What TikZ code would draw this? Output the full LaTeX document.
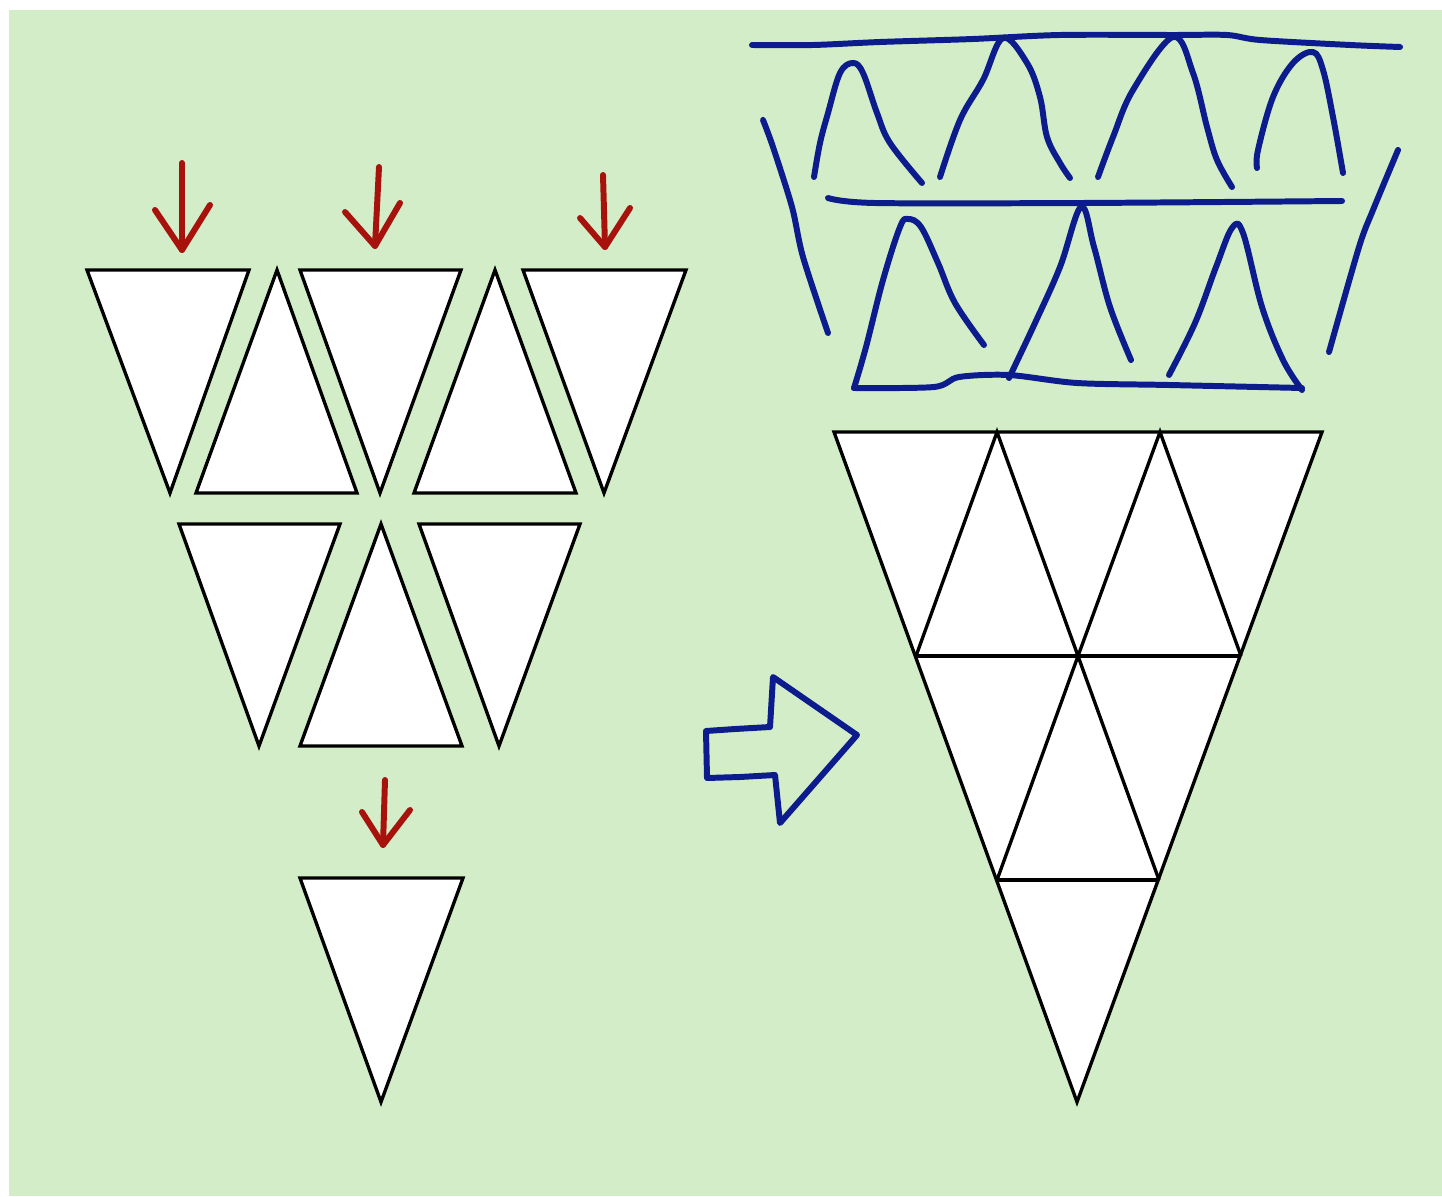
\documentclass[tikz,border=0pt]{standalone}
\usepackage{tikz}
\usetikzlibrary{calc}

\definecolor{bggreen}{RGB}{211,237,200}
\definecolor{inkblue}{RGB}{12,28,140}
\definecolor{inkred}{RGB}{168,18,12}

\tikzset{
	piece/.style={draw=black, fill=white, line width=1.9pt, line join=miter},
	seam/.style={draw=black, line width=1.9pt},
	bluepen/.style={draw=inkblue, line width=3.4pt, line cap=round, line join=round},
	redpen/.style={draw=inkred, line width=3.4pt, line cap=round, line join=round}
}

\begin{document}
\begin{tikzpicture}[x=0.02cm, y=-0.02cm]
			\useasboundingbox (0,0) rectangle (1442,1196);
			\fill[bggreen] (9,10) rectangle (1442,1196);
			% loose pieces
			\foreach \p/\q/\r in {{(87,270)}/{(249,270)}/{(170,493)},
			                      {(277,270)}/{(357,493)}/{(196,493)},
			                      {(300,270)}/{(461,270)}/{(380,493)},
			                      {(495,270)}/{(576,493)}/{(414,493)},
			                      {(523,270)}/{(686,270)}/{(604,493)},
			                      {(179,524)}/{(340,524)}/{(259,746)},
			                      {(381,524)}/{(462,746)}/{(300,746)},
			                      {(419,524)}/{(580,524)}/{(499,746)},
			                      {(300,878)}/{(463,878)}/{(381,1102)}}
				\draw[piece] \p -- \q -- \r -- cycle;
			% red arrows
			\foreach \s/\t/\l/\r in {{(182,163)}/{(182,250)}/{(155,210)}/{(210,205)},
			                         {(379,167)}/{(375,246)}/{(345,212)}/{(400,203)},
			                         {(603,175)}/{(605,247)}/{(580,218)}/{(630,208)},
			                         {(385,780)}/{(383,845)}/{(362,812)}/{(410,810)}}
			{
				\draw[redpen] \s -- \t;
				\draw[redpen] \l -- \t -- \r;
			}
			% assembled shape
			\coordinate (T0) at (834,432);
			\coordinate (T1) at (997,432);
			\coordinate (T2) at (1160,432);
			\coordinate (T3) at (1322,432);
			\coordinate (M0) at (916,656);
			\coordinate (M1) at (1078,656);
			\coordinate (M2) at (1241,656);
			\coordinate (L0) at (997,880);
			\coordinate (L1) at (1159,880);
			\coordinate (B) at (1077,1102);
			\draw[piece] (T0) -- (T3) -- (B) -- cycle;
			\draw[seam] (M0) -- (M2) (L0) -- (L1);
			\draw[seam] (M0) -- (T1) -- (M1) -- (T2) -- (M2);
			\draw[seam] (L0) -- (M1) -- (L1);
			% big blue arrow
			\draw[bluepen] (706,731) -- (735,729) -- (770,727) -- (773,677) -- (857,735)
			               -- (780,823) -- (775,775) -- (740,777) -- (707,778) -- cycle;
			% sketch of the finished cone
			\draw[bluepen] plot[smooth, tension=0.5] coordinates {(752,45) (813,45) (880,42) (973,39)
			               (1060,35) (1173,35) (1227,35) (1260,40) (1350,45) (1400,47)};
			\draw[bluepen] plot[smooth, tension=0.5] coordinates {(763,120) (773,147) (792,207) (803,257) (828,333)};
			\draw[bluepen] plot[smooth, tension=0.5] coordinates {(1398,150) (1373,210) (1359,247) (1329,352)};
			\draw[bluepen] plot[smooth, tension=0.5] coordinates {(828,198) (875,203) (1081,203) (1342,201)};
			\draw[bluepen] plot[smooth, tension=0.5] coordinates {(854,388) (934,387) (959,377) (1009,375)
			               (1077,383) (1169,385) (1302,388)};
			% upper row of peaks
			\draw[bluepen] plot[smooth, tension=0.6] coordinates {(814,177) (820,143) (828,113) (840,73)
			               (853,63) (863,73) (877,113) (890,143) (922,183)};
			\draw[bluepen] plot[smooth, tension=0.6] coordinates {(940,177) (960,120) (983,80) (1003,38)
			               (1027,63) (1040,97) (1047,137) (1060,163) (1070,178)};
			\draw[bluepen] plot[smooth, tension=0.6] coordinates {(1098,177) (1113,137) (1133,90) (1173,37)
			               (1193,73) (1207,127) (1217,160) (1232,187)};
			\draw[bluepen] plot[smooth, tension=0.6] coordinates {(1257,168) (1258,150) (1273,97) (1293,63)
			               (1313,52) (1323,70) (1333,117) (1343,173)};
			% lower row of peaks
			\draw[bluepen] plot[smooth, tension=0.6] coordinates {(854,388) (866,347) (883,280) (900,227)
			               (908,219) (921,227) (938,263) (955,303) (984,345)};
			\draw[bluepen] plot[smooth, tension=0.6] coordinates {(1009,378) (1035,323) (1060,267) (1081,207)
			               (1094,247) (1110,307) (1131,360)};
			\draw[bluepen] plot[smooth, tension=0.6] coordinates {(1169,375) (1195,323) (1216,267) (1232,228)
			               (1243,233) (1262,307) (1283,360) (1302,390)};
		\end{tikzpicture}
\end{document}
